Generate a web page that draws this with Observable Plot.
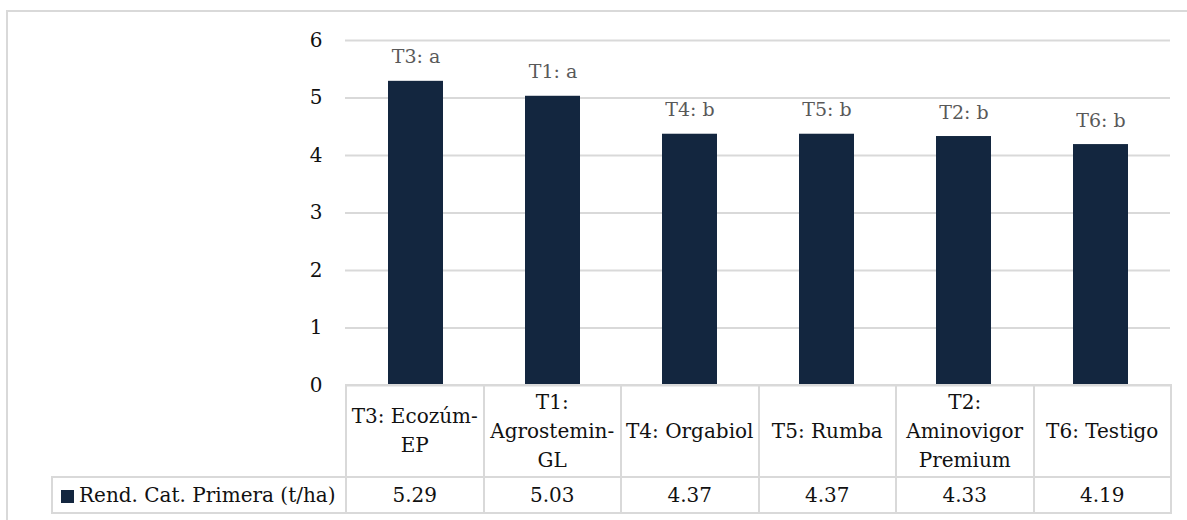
<!DOCTYPE html>
<html><head><meta charset="utf-8">
<script src="https://cdn.jsdelivr.net/npm/d3@7"></script>
<script src="https://cdn.jsdelivr.net/npm/@observablehq/plot@0.6"></script>
<style>
html,body{margin:0;padding:0;background:#fff;width:1187px;height:520px;overflow:hidden;font-family:"DejaVu Serif",serif;}
#frame{position:absolute;left:6px;top:10px;width:1200px;height:530px;border:2px solid #d9d9d9;box-sizing:border-box;}
#chart{position:absolute;left:0;top:0;}
#tbl{position:absolute;left:51px;top:384px;border-collapse:collapse;table-layout:fixed;font-size:20px;color:#111;width:1119px;}
#tbl td,#tbl th{border:2px solid #d9d9d9;padding:0;text-align:center;font-weight:normal;}
#tbl th{height:90px;line-height:29px;vertical-align:middle;}
#tbl td{height:34px;line-height:34px;}
#tbl td.blank{border:none;}
#tbl td.leg{text-align:left;padding-left:8px;white-space:nowrap;}
.sw{display:inline-block;width:13px;height:13px;margin-right:5px;vertical-align:-1px;}
</style></head>
<body>
<div id="frame"></div>
<div id="chart"></div>
<table id="tbl"><colgroup id="cols"></colgroup><tr id="hdr"></tr><tr id="vals"></tr></table>
<script>
const codes = ["T3", "T1", "T4", "T5", "T2", "T6"];
const names = ["Ecozúm-EP", "Agrostemin-GL", "Orgabiol", "Rumba", "Aminovigor Premium", "Testigo"];
const letters = ["a", "a", "b", "b", "b", "b"];
const values = [5.29, 5.03, 4.37, 4.37, 4.33, 4.19];
const yTicks = [0, 1, 2, 3, 4, 5, 6];
const seriesName = "Rend. Cat. Primera (t/ha)";
const barColor = "#13263f";

const categories = codes.map((c, i) => `${c}: ${names[i]}`);
const rows = codes.map((c, i) => ({cat: categories[i], value: values[i], label: `${c}: ${letters[i]}`}));

const chart = Plot.plot({
  width: 1187, height: 400,
  marginLeft: 345, marginRight: 17, marginTop: 40, marginBottom: 15,
  x: {domain: categories, padding: 0, axis: null},
  y: {domain: [0, 6], label: null},
  style: {fontFamily: "DejaVu Serif", fontSize: "20px", color: "#111", background: "transparent"},
  marks: [
    Plot.gridY(yTicks, {stroke: "#d9d9d9", strokeOpacity: 1, strokeWidth: 2}),
    Plot.axisY(yTicks, {tickSize: 0, tickPadding: 23, fontSize: 20, tickFormat: d3.format("d"), label: null}),
    Plot.barY(rows, {x: "cat", y: "value", fill: barColor, insetLeft: 41, insetRight: 41}),
    Plot.text(rows, {x: "cat", y: "value", text: "label", lineAnchor: "bottom", dy: -18, fill: "#595959", fontSize: 19})
  ]
});
document.getElementById("chart").appendChild(chart);

const cols = document.getElementById("cols");
const c0 = document.createElement("col"); c0.style.width = "294px"; cols.appendChild(c0);
categories.forEach(() => { const c = document.createElement("col"); c.style.width = "137.5px"; cols.appendChild(c); });
const hdr = document.getElementById("hdr");
const blank = document.createElement("td"); blank.className = "blank"; hdr.appendChild(blank);
categories.forEach(cat => { const th = document.createElement("th"); th.textContent = cat; hdr.appendChild(th); });
const vals = document.getElementById("vals");
const leg = document.createElement("td"); leg.className = "leg";
const sw = document.createElement("span"); sw.className = "sw"; sw.style.background = barColor;
leg.appendChild(sw); leg.appendChild(document.createTextNode(seriesName)); vals.appendChild(leg);
values.forEach(v => { const td = document.createElement("td"); td.textContent = d3.format(".2f")(v); vals.appendChild(td); });
</script>
</body></html>
